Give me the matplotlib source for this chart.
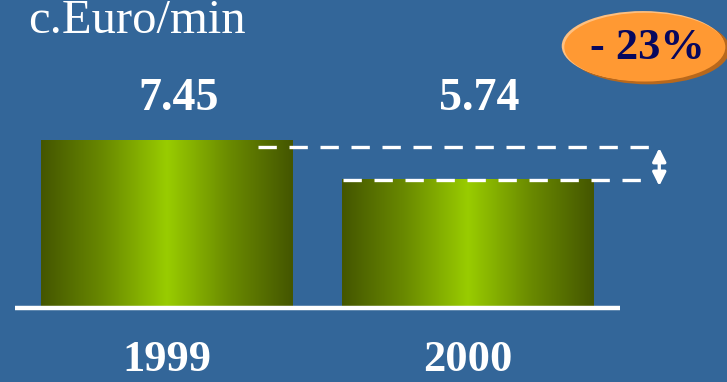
import numpy as np
import matplotlib.pyplot as plt
from matplotlib.patches import Ellipse
from matplotlib.colors import LinearSegmentedColormap

# Price per minute (euro cents)
years = ["1999", "2000"]
prices = [7.45, 5.74]
unit_label = "c.Euro/min"
change_label = "- 23%"

bg = "#336699"
serif = ["Liberation Serif", "DejaVu Serif"]

fig = plt.figure(figsize=(7.27, 3.82), dpi=100, facecolor=bg)
ax = fig.add_axes([0, 0, 1, 1])
ax.set_facecolor(bg)
ax.set_xlim(-0.553, 1.862)
ax.set_ylim(-3.28, 13.66)
ax.axis("off")

x = np.arange(len(years))
width = 0.834

# olive -> lime -> olive horizontal gradient for each bar
cmap = LinearSegmentedColormap.from_list(
    "olive", ["#445600", "#6a8a00", "#99cc00", "#6a8a00", "#445600"])
grad = np.linspace(0, 1, 256).reshape(1, -1)
bars = ax.bar(x, prices, width=width, color="none", edgecolor="none")
for b in bars:
    x0, y0 = b.get_x(), b.get_y()
    im = ax.imshow(grad, cmap=cmap, aspect="auto", interpolation="bicubic",
                   extent=[x0, x0 + b.get_width(), y0, y0 + b.get_height()],
                   zorder=2)
    im.set_clip_path(b)

# baseline
ax.plot([-0.504, 1.506], [0, 0], color="white", lw=3.2,
        solid_capstyle="butt", zorder=3)

# value labels, all on one row above the bars
for xi, v in zip(x, prices):
    ax.text(xi + 0.04, 9.25, f"{v:.2f}", color="white", fontsize=33,
            fontweight="bold", family=serif, ha="center", va="center")

# year labels under baseline
for xi, yr in zip(x, years):
    ax.text(xi, -2.3, yr, color="white", fontsize=32, fontweight="bold",
            family=serif, ha="center", va="center")

ax.text(-0.46, 12.75, unit_label, color="white", fontsize=35,
        family=serif, ha="left", va="center")

# dashed guides showing the drop
x_end = 1.605
ax.plot([0.304, x_end], [prices[0] - 0.32, prices[0] - 0.32], color="white",
        lw=2.4, dashes=(5.5, 3.8), zorder=3)
ax.plot([0.587, x_end], [prices[1] - 0.05, prices[1] - 0.05], color="white",
        lw=2.4, dashes=(5.5, 3.8), zorder=3)
ax.annotate("", xy=(1.637, prices[1] - 0.33), xytext=(1.637, prices[0] - 0.35),
            arrowprops=dict(arrowstyle="<|-|>", color="white", lw=2.4,
                            mutation_scale=20, shrinkA=0, shrinkB=0))

# orange badge with the percentage change
cx, cy = 1.589, 11.57
ax.add_patch(Ellipse((cx + 0.012, cy - 0.1), 0.54, 3.1,
                     facecolor="#b8681c", edgecolor="none", zorder=4))
ax.add_patch(Ellipse((cx - 0.006, cy + 0.05), 0.54, 3.1,
                     facecolor="#ffc080", edgecolor="none", zorder=4))
ax.add_patch(Ellipse((cx, cy), 0.535, 3.05,
                     facecolor="#ff9933", edgecolor="none", zorder=5))
ax.text(cx + 0.01, cy - 0.05, change_label, color="#07075e", fontsize=32,
        fontweight="bold", family=serif, ha="center", va="center", zorder=6)

fig.savefig("out.png", dpi=100, facecolor=bg)
